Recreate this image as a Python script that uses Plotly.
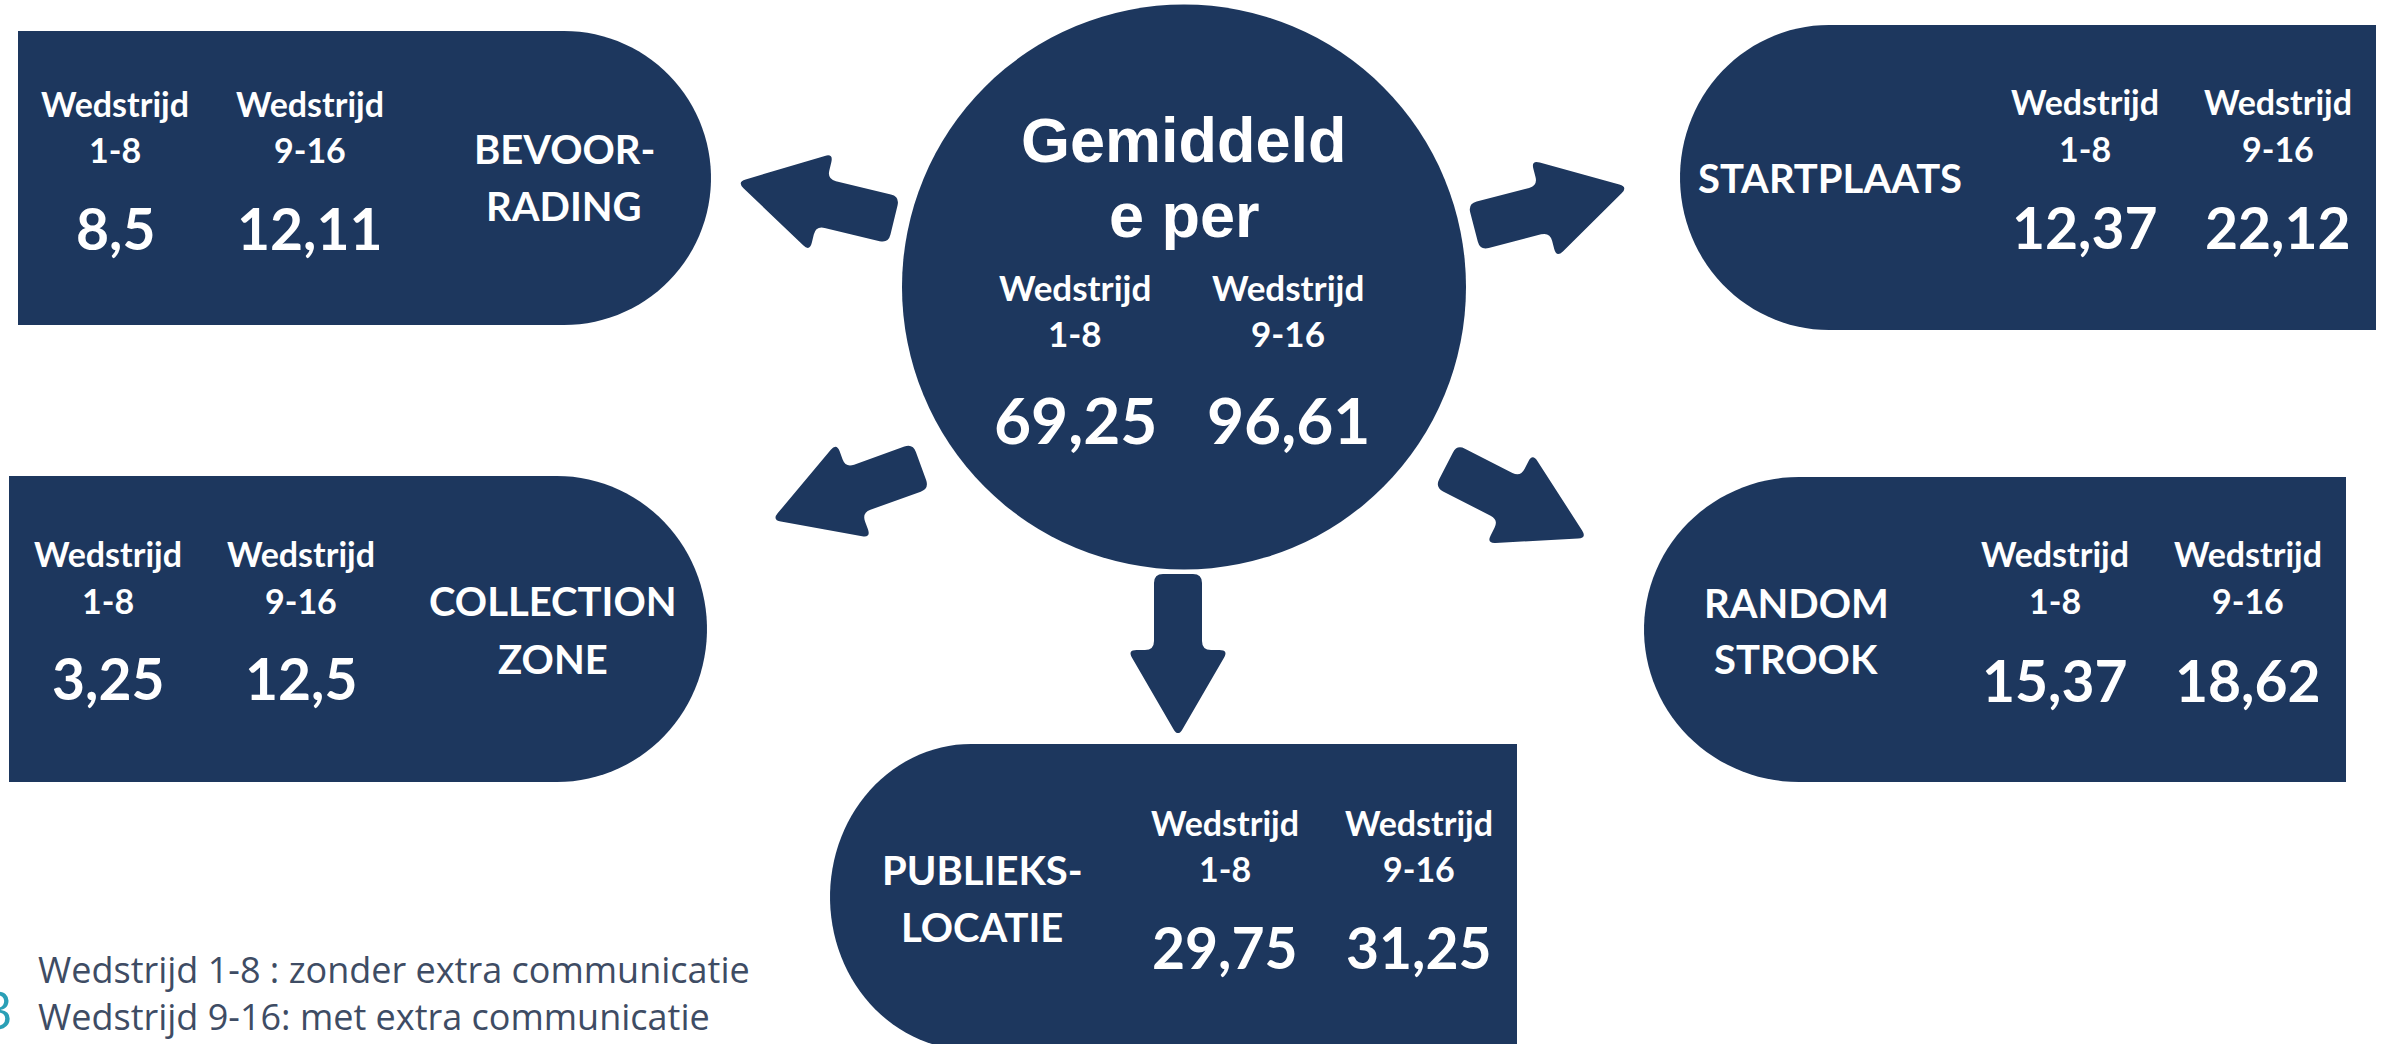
import numpy as np
import plotly.graph_objects as go

# ---------------- data ----------------
categories = ["BEVOOR-|RADING", "STARTPLAATS", "COLLECTION|ZONE", "RANDOM|STROOK", "PUBLIEKS-|LOCATIE"]
values_1_8 = [8.5, 12.37, 3.25, 15.37, 29.75]
values_9_16 = [12.11, 22.12, 12.5, 18.62, 31.25]
total_title = ["Gemiddeld", "e per"]
total_1_8 = 69.25
total_9_16 = 96.61
col_header = "Wedstrijd"
col_ranges = ["1-8", "9-16"]
footnotes = ["Wedstrijd 1-8 : zonder extra communicatie", "Wedstrijd 9-16: met extra communicatie"]
slide_number = "3"

# ---------------- style / layout ----------------
W, H = 2390, 1044
NAVY = "#1d375e"
WHITE = "#ffffff"
BOLD_FONT = "Lato"
TITLE_FONT = "Liberation Sans"

# box geometry: (x_left, x_right, y_top, y_bottom, rounded side, radius_x)
boxes = [
    dict(x0=18, x1=564, y0=31, y1=325, side="right", rx=147,
         cols=(115, 310), label_x=564, label_y=(149, 206),
         rows=(103, 149, 228)),
    dict(x0=1829, x1=2376, y0=25, y1=330, side="left", rx=149,
         cols=(2085, 2278), label_x=1830, label_y=(178,),
         rows=(101, 148, 227)),
    dict(x0=9, x1=557, y0=476, y1=782, side="right", rx=150,
         cols=(108, 301), label_x=553, label_y=(601, 659),
         rows=(553, 600, 678)),
    dict(x0=1799, x1=2346, y0=477, y1=782, side="left", rx=155,
         cols=(2055, 2248), label_x=1796, label_y=(603, 659),
         rows=(553, 600, 680)),
    dict(x0=971, x1=1517, y0=744, y1=1050, side="left", rx=141,
         cols=(1225, 1419), label_x=982, label_y=(870, 927),
         rows=(822, 868, 947)),
]
circle = dict(cx=1184, cy=287, rx=282, ry=282.5,
              cols=(1075, 1288), rows=(287, 333, 419), title_y=(140, 215))

arrows = [  # (tail, tip)
    ((894, 220), (737, 182)),
    ((1474, 227), (1628, 187)),
    ((921, 466), (772, 520)),
    ((1446, 466), (1587, 538)),
    ((1178, 574), (1178, 737)),
]
SHAFT_W, HEAD_W, HEAD_L = 48, 101, 87


def fmt(v):
    return f"{v:g}".replace(".", ",")


def box_path(b):
    x0, x1, y0, y1, rx = b["x0"], b["x1"], b["y0"], b["y1"], b["rx"]
    cy = (y0 + y1) / 2
    ry = (y1 - y0) / 2
    t = np.linspace(-np.pi / 2, np.pi / 2, 60)
    if b["side"] == "right":
        pts = [(x0, y0)] + [(x1 + rx * np.cos(a), cy + ry * np.sin(a)) for a in t] + [(x0, y1)]
    else:
        pts = [(x1, y0), (x1, y1)] + [(x0 - rx * np.cos(a), cy - ry * np.sin(a)) for a in t]
    return "M " + " L ".join(f"{x:.2f},{y:.2f}" for x, y in pts) + " Z"


def rounded_poly(pts, r):
    pts = np.array(pts, dtype=float)
    n = len(pts)
    segs = []
    for i in range(n):
        p = pts[i]
        prv = pts[i - 1]
        nxt = pts[(i + 1) % n]
        d1 = prv - p
        d2 = nxt - p
        l1, l2 = np.linalg.norm(d1), np.linalg.norm(d2)
        rr = min(r, l1 / 2.2, l2 / 2.2)
        a = p + d1 / l1 * rr
        b = p + d2 / l2 * rr
        segs.append((a, p, b))
    path = f"M {segs[0][0][0]:.2f},{segs[0][0][1]:.2f} "
    for k, (a, p, b) in enumerate(segs):
        if k > 0:
            path += f"L {a[0]:.2f},{a[1]:.2f} "
        path += f"Q {p[0]:.2f},{p[1]:.2f} {b[0]:.2f},{b[1]:.2f} "
    return path + "Z"


def arrow_path(tail, tip):
    T = np.array(tail, float)
    P = np.array(tip, float)
    d = (P - T) / np.linalg.norm(P - T)
    nrm = np.array([-d[1], d[0]])
    B = P - d * HEAD_L
    pts = [T + nrm * SHAFT_W / 2, B + nrm * SHAFT_W / 2, B + nrm * HEAD_W / 2, P,
           B - nrm * HEAD_W / 2, B - nrm * SHAFT_W / 2, T - nrm * SHAFT_W / 2]
    return rounded_poly(pts, 9)


fig = go.Figure()
shapes = []
for b in boxes:
    shapes.append(dict(type="path", path=box_path(b), fillcolor=NAVY, line=dict(width=0),
                       xref="x", yref="y", layer="below"))
shapes.append(dict(type="circle", x0=circle["cx"] - circle["rx"], x1=circle["cx"] + circle["rx"],
                   y0=circle["cy"] - circle["ry"], y1=circle["cy"] + circle["ry"],
                   fillcolor=NAVY, line=dict(width=0), xref="x", yref="y", layer="below"))
for tail, tip in arrows:
    shapes.append(dict(type="path", path=arrow_path(tail, tip), fillcolor=NAVY, line=dict(width=0),
                       xref="x", yref="y", layer="below"))

annotations = []


def txt(x, y, s, size, family=BOLD_FONT, color=WHITE, bold=True, xanchor="center", align="center"):
    annotations.append(dict(x=x, y=y, xref="x", yref="y", text=f"<b>{s}</b>" if bold else s,
                            showarrow=False, xanchor=xanchor, yanchor="middle", align=align,
                            font=dict(family=family, size=size, color=color)))


for b, cat, v1, v2 in zip(boxes, categories, values_1_8, values_9_16):
    for cx, rng, v in zip(b["cols"], col_ranges, (v1, v2)):
        txt(cx, b["rows"][0], col_header, 34)
        txt(cx, b["rows"][1], rng, 34)
        txt(cx, b["rows"][2], fmt(v), 57)
    for line, ly in zip(cat.split("|"), b["label_y"]):
        txt(b["label_x"], ly, line, 40)

for line, ly in zip(total_title, circle["title_y"]):
    txt(circle["cx"], ly, line, 63, family=TITLE_FONT)
for cx, rng, v in zip(circle["cols"], col_ranges, (total_1_8, total_9_16)):
    txt(cx, circle["rows"][0], col_header, 35)
    txt(cx, circle["rows"][1], rng, 35)
    txt(cx, circle["rows"][2], fmt(v), 64)

txt(36, 993, "<br>".join(footnotes), 36, family="Open Sans", color="#3e4c64", bold=False,
    xanchor="left", align="left")
txt(15, 1008, slide_number, 52, family="Open Sans", color="#2a9fb6", bold=False, xanchor="right")

fig.update_layout(
    width=W, height=H, margin=dict(l=0, r=0, t=0, b=0),
    paper_bgcolor="white", plot_bgcolor="white",
    xaxis=dict(range=[0, W], visible=False, fixedrange=True),
    yaxis=dict(range=[H, 0], visible=False, fixedrange=True),
    shapes=shapes, annotations=annotations, showlegend=False,
)
fig.write_html("out.html", config={"displayModeBar": False},
               post_script="document.body.style.margin='0px';document.body.style.overflow='hidden';")
